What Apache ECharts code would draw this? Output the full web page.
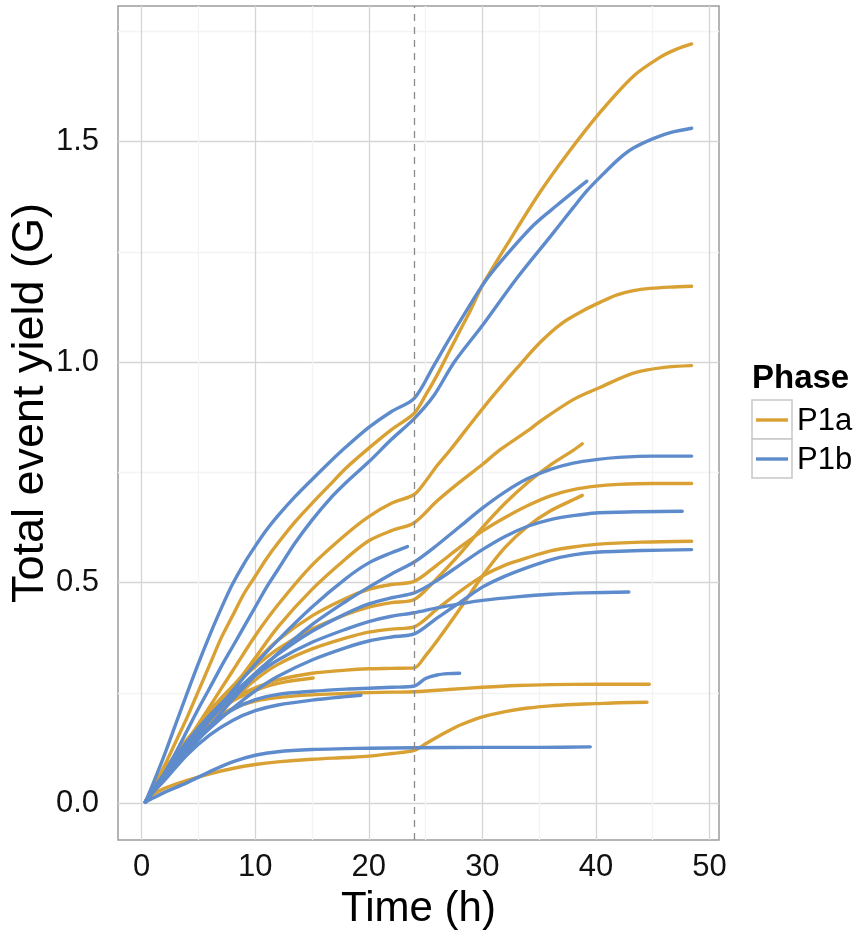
<!DOCTYPE html>
<html>
<head>
<meta charset="utf-8">
<script src="https://cdn.jsdelivr.net/npm/echarts@6/dist/echarts.min.js"></script>
<style>
  html, body { margin: 0; padding: 0; background: #ffffff; }
  #chart { width: 862px; height: 930px; }
</style>
</head>
<body>
<div id="chart"></div>
<script>
// ---------- data (time h, total event yield G) ----------
const xTicks = [0, 10, 20, 30, 40, 50];
const xMinorTicks = [5, 15, 25, 35, 45];
const yTicks = [0, 0.5, 1.0, 1.5];
const yMinorTicks = [0.25, 0.75, 1.25, 1.75];
const phaseBoundary = 24;

// Phase P1a (orange)
const P1a_1 = [[0.32,0.003],[1,0.035],[2,0.085],[3,0.14],[4,0.195],[5,0.255],[6,0.315],[7,0.375],[8,0.425],[9,0.475],[10,0.515],[11,0.555],[12,0.59],[13.5,0.638],[15,0.68],[16.5,0.72],[18,0.76],[20,0.805],[22,0.847],[24,0.884],[25,0.925],[26,0.97],[27,1.02],[28,1.07],[29,1.12],[30,1.174],[32.5,1.28],[35.1,1.386],[37.4,1.469],[40.4,1.567],[43.3,1.648],[45.6,1.69],[47,1.708],[48.43,1.721]];
const P1a_2 = [[0.32,0.003],[1,0.03],[2,0.06],[4,0.14],[6,0.22],[8,0.30],[10,0.38],[12,0.45],[15,0.54],[18,0.61],[20,0.65],[22,0.68],[24,0.70],[25,0.73],[26,0.765],[27.2,0.802],[28.6,0.848],[30.7,0.916],[33,0.985],[35.1,1.045],[37,1.088],[38.9,1.117],[40.4,1.136],[41.8,1.152],[43.3,1.162],[44.8,1.167],[46.5,1.170],[48.43,1.172]];
const P1a_3 = [[0.32,0.003],[1,0.025],[2,0.055],[4,0.12],[6,0.19],[8,0.26],[10,0.33],[12,0.40],[15,0.485],[18,0.555],[20,0.595],[22,0.618],[24,0.636],[26,0.685],[28,0.728],[30,0.768],[31.6,0.802],[34.2,0.848],[35.1,0.866],[38,0.915],[40.4,0.943],[43.3,0.975],[46,0.988],[48.43,0.992]];
const P1a_4 = [[0.32,0.003],[1,0.028],[2,0.06],[4,0.13],[6,0.20],[8,0.265],[10,0.32],[12,0.37],[15,0.425],[18,0.465],[20,0.485],[22,0.496],[24,0.503],[26,0.54],[28,0.58],[30,0.617],[32,0.648],[34,0.675],[36,0.697],[38,0.711],[40,0.719],[42,0.723],[45,0.725],[48.43,0.725]];
const P1a_5 = [[0.32,0.003],[1,0.03],[2,0.065],[4,0.14],[6,0.21],[8,0.265],[10,0.31],[12,0.35],[15,0.395],[18,0.428],[20,0.445],[22,0.455],[24,0.462],[26,0.51],[28,0.565],[30,0.625],[32,0.68],[34,0.727],[36,0.767],[38,0.800],[38.8,0.815]];
const P1a_6 = [[0.32,0.003],[1,0.028],[2,0.06],[4,0.125],[6,0.185],[8,0.235],[10,0.28],[12,0.315],[15,0.35],[18,0.375],[20,0.388],[22,0.395],[24,0.400],[26,0.44],[28,0.48],[30,0.515],[32,0.54],[34,0.557],[36,0.572],[38,0.581],[40,0.587],[44,0.592],[48.43,0.594]];
const P1a_7 = [[0.32,0.003],[1,0.035],[2,0.075],[4,0.145],[6,0.20],[8,0.238],[10,0.262],[12,0.28],[15,0.295],[18,0.302],[20,0.305],[22,0.306],[24,0.307],[25,0.335],[26,0.368],[28,0.44],[30,0.515],[32,0.58],[34,0.628],[36,0.663],[38,0.688],[38.8,0.698]];
const P1a_8 = [[0.32,0.003],[1,0.033],[2,0.07],[4,0.14],[6,0.195],[8,0.232],[10,0.256],[12,0.272],[15.1,0.284]];
const P1a_9 = [[0.32,0.003],[1,0.032],[2,0.066],[4,0.135],[6,0.185],[8,0.215],[10,0.232],[12,0.240],[15,0.246],[18,0.249],[20,0.251],[22,0.252],[24,0.253],[27,0.258],[30,0.263],[33,0.267],[36,0.269],[40,0.270],[44.7,0.270]];
const P1a_10 = [[0.32,0.003],[1,0.02],[2,0.034],[4,0.052],[6,0.067],[8,0.079],[10,0.088],[12,0.094],[15,0.100],[18,0.104],[20,0.107],[22,0.113],[24,0.120],[25,0.135],[26,0.150],[27,0.164],[28,0.177],[30,0.196],[32,0.208],[34,0.216],[36,0.221],[38,0.224],[40,0.226],[42,0.228],[44.5,0.229]];

// Phase P1b (blue)
const P1b_1 = [[0.32,0.003],[1,0.045],[2,0.11],[3,0.18],[4,0.25],[5,0.318],[6,0.382],[7,0.442],[8,0.497],[9,0.543],[10,0.583],[11,0.62],[12,0.652],[13.5,0.695],[15,0.734],[16.5,0.772],[18,0.808],[20,0.852],[22,0.888],[24,0.918],[25.7,0.991],[27.2,1.057],[30,1.174],[31.6,1.227],[34.5,1.31],[36.6,1.356],[39.2,1.41]];
const P1b_2 = [[0.32,0.003],[1,0.028],[2,0.068],[3,0.115],[4,0.165],[5,0.215],[6,0.262],[7,0.31],[8,0.355],[9,0.4],[10,0.445],[11,0.49],[12,0.53],[13.5,0.59],[15,0.642],[16.5,0.688],[18,0.727],[20,0.774],[22,0.825],[24,0.872],[25.7,0.923],[27.5,0.999],[30,1.083],[33,1.189],[36,1.285],[38,1.35],[39.2,1.388],[40.4,1.42],[42,1.46],[43.3,1.485],[45.1,1.507],[46.7,1.521],[48.43,1.530]];
const P1b_3 = [[0.32,0.003],[1,0.03],[2,0.06],[4,0.125],[6,0.19],[8,0.255],[10,0.315],[12,0.37],[15,0.445],[18,0.51],[20,0.545],[22,0.568],[23.4,0.582]];
const P1b_4 = [[0.32,0.003],[1,0.027],[2,0.055],[4,0.115],[6,0.175],[8,0.235],[10,0.29],[12,0.34],[15,0.405],[18,0.458],[20,0.49],[22,0.52],[24,0.547],[26,0.585],[28,0.627],[30,0.669],[32,0.706],[34,0.736],[36,0.757],[38,0.771],[40,0.779],[42,0.784],[45,0.787],[48.43,0.787]];
const P1b_5 = [[0.32,0.003],[1,0.03],[2,0.062],[4,0.13],[6,0.19],[8,0.245],[10,0.295],[12,0.338],[15,0.39],[18,0.43],[20,0.452],[22,0.466],[24,0.477],[26,0.505],[28,0.54],[30,0.575],[32,0.605],[34,0.628],[36,0.643],[38,0.652],[40,0.658],[44,0.661],[47.6,0.662]];
const P1b_6 = [[0.32,0.003],[1,0.032],[2,0.068],[4,0.14],[6,0.2],[8,0.25],[10,0.29],[12,0.325],[15,0.365],[18,0.395],[20,0.412],[22,0.424],[24,0.432],[26,0.443],[28,0.452],[30,0.46],[33,0.468],[36,0.474],[39,0.477],[42.9,0.479]];
const P1b_7 = [[0.32,0.003],[1,0.028],[2,0.058],[4,0.12],[6,0.17],[8,0.215],[10,0.255],[12,0.288],[15,0.325],[18,0.353],[20,0.368],[22,0.377],[24,0.384],[26,0.42],[28,0.455],[30,0.49],[32,0.515],[34,0.535],[36,0.552],[38,0.563],[40,0.569],[44,0.573],[48.43,0.575]];
const P1b_8 = [[0.32,0.003],[1,0.03],[2,0.062],[4,0.125],[6,0.175],[8,0.212],[10,0.235],[12,0.247],[15,0.254],[18,0.259],[20,0.261],[22,0.263],[24,0.266],[25,0.283],[26,0.291],[27,0.294],[28,0.295]];
const P1b_9 = [[0.32,0.003],[1,0.025],[2,0.052],[4,0.11],[6,0.155],[8,0.188],[10,0.21],[12,0.223],[15,0.234],[18,0.242],[19.3,0.245]];
const P1b_10 = [[0.32,0.003],[1,0.012],[2,0.025],[4,0.047],[6,0.072],[8,0.094],[10,0.109],[12,0.117],[15,0.122],[18,0.124],[20,0.125],[24,0.126],[30,0.127],[35,0.127],[39.5,0.128]];

const phaseNames = ['P1a', 'P1b'];
const phaseCurves = [
  [P1a_1, P1a_2, P1a_3, P1a_4, P1a_5, P1a_6, P1a_7, P1a_8, P1a_9, P1a_10],
  [P1b_1, P1b_2, P1b_3, P1b_4, P1b_5, P1b_6, P1b_7, P1b_8, P1b_9, P1b_10]
];
const phaseColors = ['#D9A133', '#5E8BCB'];

// ---------- chart ----------
const chart = echarts.init(document.getElementById('chart'), null, { renderer: 'canvas' });
const FONT = 'Liberation Sans, Arial, Helvetica, sans-serif';
const X_MIN = -2.09, X_MAX = 50.84, Y_MIN = -0.083, Y_MAX = 1.807;

const series = [];
series.push({
  type: 'line', name: 'boundary', data: [], z: 1, silent: true,
  xAxisIndex: 0, yAxisIndex: 0,
  markLine: {
    silent: true, symbol: 'none', animation: false,
    label: { show: false },
    lineStyle: { color: '#8a8a8a', width: 1.3, type: [7, 6] },
    data: [{ xAxis: phaseBoundary }]
  }
});
phaseCurves.forEach((curves, p) => {
  curves.forEach((c) => {
    series.push({
      type: 'line', name: phaseNames[p], data: c,
      xAxisIndex: 0, yAxisIndex: 0,
      showSymbol: false, symbol: 'none',
      smooth: 0.3,
      lineStyle: { color: phaseColors[p], width: 3.4, cap: 'round', join: 'round' },
      itemStyle: { color: phaseColors[p] },
      z: 2 + p, silent: true, animation: false
    });
  });
});

const option = {
  backgroundColor: '#ffffff',
  animation: false,
  grid: {
    left: 118, top: 6, width: 601, height: 834,
    containLabel: false, outerBoundsMode: 'none',
    show: true, backgroundColor: '#ffffff',
    borderColor: '#9c9c9c', borderWidth: 1.5
  },
  xAxis: [
    {
      type: 'value', min: X_MIN, max: X_MAX,
      name: 'Time (h)', nameLocation: 'middle', nameGap: 48, nameMoveOverlap: false,
      nameTextStyle: { fontFamily: FONT, fontSize: 42, color: '#000' },
      axisLine: { show: false },
      axisTick: { show: false, customValues: xTicks },
      axisLabel: { customValues: xTicks, fontFamily: FONT, fontSize: 31, color: '#111', margin: 12 },
      splitLine: { show: true, lineStyle: { color: '#d5d5d5', width: 1.3 } }
    },
    {
      type: 'value', min: X_MIN, max: X_MAX, position: 'bottom',
      axisLine: { show: false },
      axisTick: { show: false, customValues: xMinorTicks },
      axisLabel: { show: false, customValues: xMinorTicks },
      splitLine: { show: true, lineStyle: { color: '#f3f3f3', width: 1.3 } }
    }
  ],
  yAxis: [
    {
      type: 'value', min: Y_MIN, max: Y_MAX,
      name: 'Total event yield (G)', nameLocation: 'middle', nameGap: 65, nameMoveOverlap: false,
      nameTextStyle: { fontFamily: FONT, fontSize: 45, color: '#000', padding: [0, 0, 0, 40] },
      axisLine: { show: false },
      axisTick: { show: false, customValues: yTicks },
      axisLabel: { customValues: yTicks, fontFamily: FONT, fontSize: 31, color: '#111', margin: 19,
                   formatter: (v) => v.toFixed(1) },
      splitLine: { show: true, lineStyle: { color: '#d5d5d5', width: 1.3 } }
    },
    {
      type: 'value', min: Y_MIN, max: Y_MAX, position: 'left',
      axisLine: { show: false },
      axisTick: { show: false, customValues: yMinorTicks },
      axisLabel: { show: false, customValues: yMinorTicks },
      splitLine: { show: true, lineStyle: { color: '#f3f3f3', width: 1.3 } }
    }
  ],
  series: series,
  graphic: [
    { type: 'text', x: 752, y: 379, style: { text: 'Phase', fontFamily: FONT, fontSize: 33, fontWeight: 'bold', fill: '#000', verticalAlign: 'middle' } },
    { type: 'rect', shape: { x: 752, y: 400, width: 40, height: 39 }, style: { fill: '#fff', stroke: '#c8c8c8', lineWidth: 1.5 } },
    { type: 'rect', shape: { x: 752, y: 439, width: 40, height: 39 }, style: { fill: '#fff', stroke: '#c8c8c8', lineWidth: 1.5 } },
    { type: 'line', shape: { x1: 756, y1: 420, x2: 788, y2: 420 }, style: { stroke: phaseColors[0], lineWidth: 3.4 } },
    { type: 'line', shape: { x1: 756, y1: 459, x2: 788, y2: 459 }, style: { stroke: phaseColors[1], lineWidth: 3.4 } },
    { type: 'text', x: 797, y: 421, style: { text: phaseNames[0], fontFamily: FONT, fontSize: 31, fill: '#000', verticalAlign: 'middle' } },
    { type: 'text', x: 797, y: 460, style: { text: phaseNames[1], fontFamily: FONT, fontSize: 31, fill: '#000', verticalAlign: 'middle' } }
  ]
};
chart.setOption(option);
</script>
</body>
</html>
